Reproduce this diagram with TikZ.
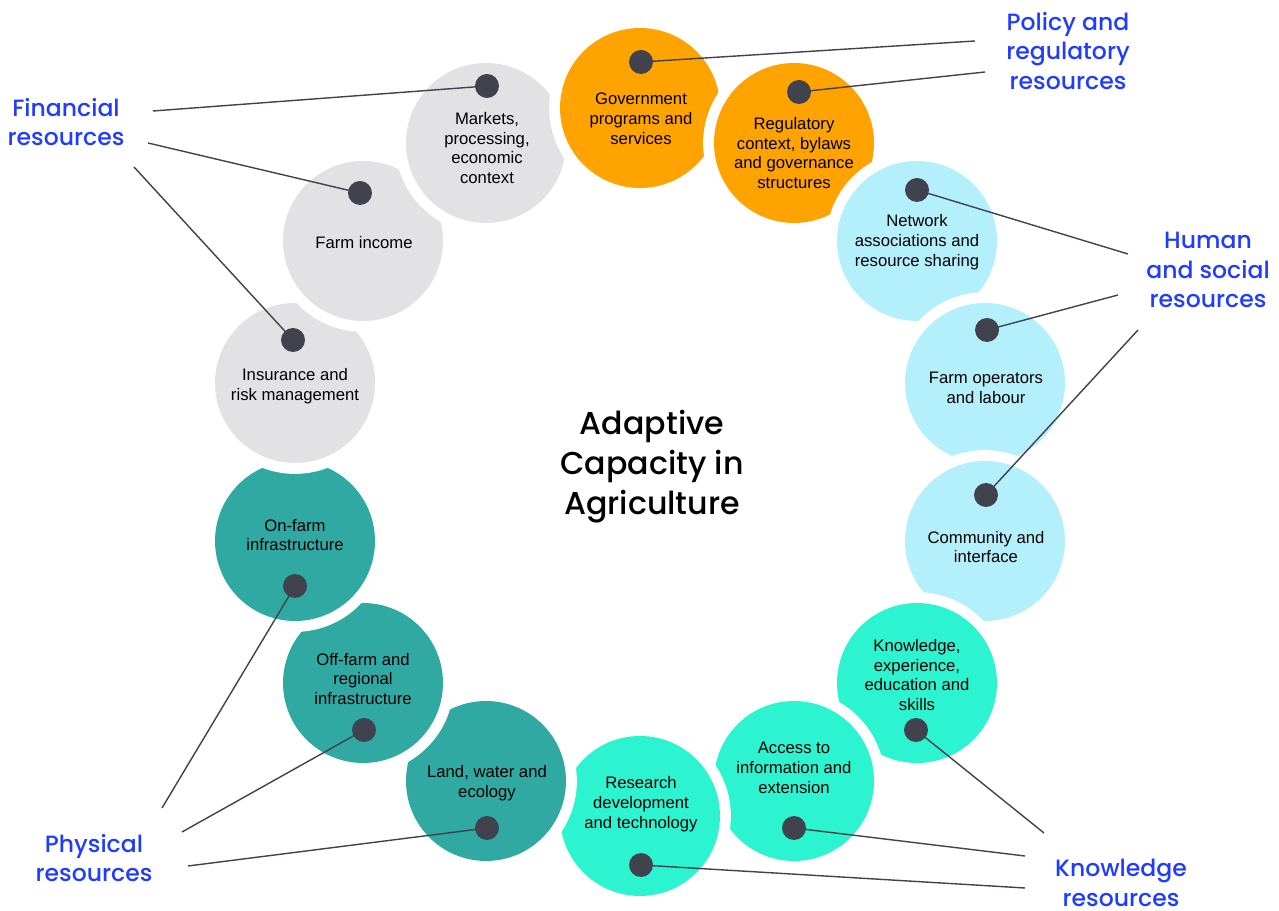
\documentclass[tikz,border=0pt]{standalone}
\usepackage{fontspec}
\setmainfont{Liberation Sans}
\newfontfamily\headfont{Poppins}[UprightFont=* Medium]
\definecolor{policyorange}{HTML}{FFA300}
\definecolor{finegrey}{HTML}{E2E2E4}
\definecolor{humanblue}{HTML}{B4F0FC}
\definecolor{physteal}{HTML}{31A9A3}
\definecolor{knowmint}{HTML}{2DF4D0}
\definecolor{dotgray}{HTML}{40424E}
\definecolor{groupblue}{HTML}{1F3CFF}
\begin{document}
\begin{tikzpicture}[x=0.02cm, y=-0.02cm,
          ring/.style = {shape=circle, inner sep=0pt, outer sep=0pt, minimum size=3.2cm,
                         preaction={draw=white, line width=12.4pt}},
          ringtext/.style = {align=center, text=black, font=\fontsize{9.5}{11.3}\selectfont},
          dot/.style = {shape=circle, inner sep=0pt, minimum size=0.48cm, fill=dotgray},
          group/.style = {align=center, text=groupblue, font=\headfont\fontsize{13.4}{17}\selectfont},
          link/.style = {draw=dotgray, line width=0.8pt}]
          \useasboundingbox (0,0) rectangle (1279,911);
          % the ring, each circle bites the one before
          \node[ring, fill=policyorange] (gov) at (640,108) {};
          \node[ring, fill=policyorange] (reg) at (794,143) {};
          \node[ring, fill=humanblue] (net) at (917,241) {};
          \node[ring, fill=humanblue] (oper) at (985,383) {};
          \node[ring, fill=humanblue] (comm) at (985,541) {};
          \node[ring, fill=knowmint] (know) at (917,683) {};
          \node[ring, fill=knowmint] (acc) at (794,781) {};
          \node[ring, fill=knowmint] (res) at (640,816) {};
          \node[ring, fill=physteal] (land) at (486,781) {};
          \node[ring, fill=physteal] (off) at (363,683) {};
          \node[ring, fill=physteal] (on) at (295,541) {};
          \node[ring, fill=finegrey] (ins) at (295,383) {};
          \node[ring, fill=finegrey] (inc) at (363,241) {};
          \node[ring, fill=finegrey] (mkt) at (486,143) {};
          % close the ring: gov over mkt
          \begin{scope}
            \clip (mkt) circle (1.86cm);
            \node[ring, fill=policyorange] (govtop) at (gov) {};
          \end{scope}
          % texts
          \node[ringtext] (govtxt) at (641,119) {Government\\programs and\\services};
          \node[ringtext] (regtxt) at (794,153) {Regulatory\\context, bylaws\\and governance\\structures};
          \node[ringtext] (nettxt) at (917,242) {Network\\associations and\\resource sharing};
          \node[ringtext] (opertxt) at (986,388) {Farm operators\\and labour};
          \node[ringtext] (commtxt) at (986,547) {Community and\\interface};
          \node[ringtext] (knowtxt) at (917,675) {Knowledge,\\experience,\\education and\\skills};
          \node[ringtext] (acctxt) at (794,768) {Access to\\information and\\extension};
          \node[ringtext] (restxt) at (641,804) {Research\\development\\and technology};
          \node[ringtext] (landtxt) at (487,783) {Land, water and\\ecology};
          \node[ringtext] (offtxt) at (363,679) {Off-farm and\\regional\\infrastructure};
          \node[ringtext] (ontxt) at (295,535) {On-farm\\infrastructure};
          \node[ringtext] (instxt) at (295,386) {Insurance and\\risk management};
          \node[ringtext] (inctxt) at (364,243) {Farm income};
          \node[ringtext] (mkttxt) at (487,148) {Markets,\\processing,\\economic\\context};
          \node[align=center, font=\headfont\fontsize{18}{22.7}\selectfont] (title) at (652,467) {Adaptive\\Capacity in\\Agriculture};
          % resource groups
          \node[group] (fin) at (66,122) {Financial\\resources};
          \node[group] (pol) at (1068,51) {Policy and\\regulatory\\resources};
          \node[group] (hum) at (1208,270) {Human\\and social\\resources};
          \node[group] (knw) at (1121,883) {Knowledge\\resources};
          \node[group] (phy) at (94,858) {Physical\\resources};
          \coordinate (fin1) at (153,111);
          \coordinate (fin2) at (148,143);
          \coordinate (fin3) at (134,167);
          \coordinate (pol1) at (975,41);
          \coordinate (pol2) at (985,72);
          \coordinate (hum1) at (1128,254);
          \coordinate (hum2) at (1118,295);
          \coordinate (hum3) at (1138,330);
          \coordinate (knw1) at (1044,833);
          \coordinate (knw2) at (1025,856);
          \coordinate (knw3) at (1025,888);
          \coordinate (phy1) at (162,808);
          \coordinate (phy2) at (182,832);
          \coordinate (phy3) at (188,866);
          % dots
          \coordinate (govdot) at (641,62);
          \coordinate (regdot) at (799,92);
          \coordinate (netdot) at (917,190);
          \coordinate (operdot) at (987,330);
          \coordinate (commdot) at (986,495);
          \coordinate (knowdot) at (916,730);
          \coordinate (accdot) at (794,828);
          \coordinate (resdot) at (641,865);
          \coordinate (landdot) at (487,828);
          \coordinate (offdot) at (364,730);
          \coordinate (ondot) at (295,586);
          \coordinate (insdot) at (293,340);
          \coordinate (incdot) at (360,193);
          \coordinate (mktdot) at (487,86);
          \draw[link] (fin1) -- (mktdot);
          \draw[link] (fin2) -- (incdot);
          \draw[link] (fin3) -- (insdot);
          \draw[link] (pol1) -- (govdot);
          \draw[link] (pol2) -- (regdot);
          \draw[link] (hum1) -- (netdot);
          \draw[link] (hum2) -- (operdot);
          \draw[link] (hum3) -- (commdot);
          \draw[link] (knw1) -- (knowdot);
          \draw[link] (knw2) -- (accdot);
          \draw[link] (knw3) -- (resdot);
          \draw[link] (phy1) -- (ondot);
          \draw[link] (phy2) -- (offdot);
          \draw[link] (phy3) -- (landdot);
          \node[dot] (govd) at (govdot) {};
          \node[dot] (regd) at (regdot) {};
          \node[dot] (netd) at (netdot) {};
          \node[dot] (operd) at (operdot) {};
          \node[dot] (commd) at (commdot) {};
          \node[dot] (knowd) at (knowdot) {};
          \node[dot] (accd) at (accdot) {};
          \node[dot] (resd) at (resdot) {};
          \node[dot] (landd) at (landdot) {};
          \node[dot] (offd) at (offdot) {};
          \node[dot] (ond) at (ondot) {};
          \node[dot] (insd) at (insdot) {};
          \node[dot] (incd) at (incdot) {};
          \node[dot] (mktd) at (mktdot) {};
\end{tikzpicture}
\end{document}
